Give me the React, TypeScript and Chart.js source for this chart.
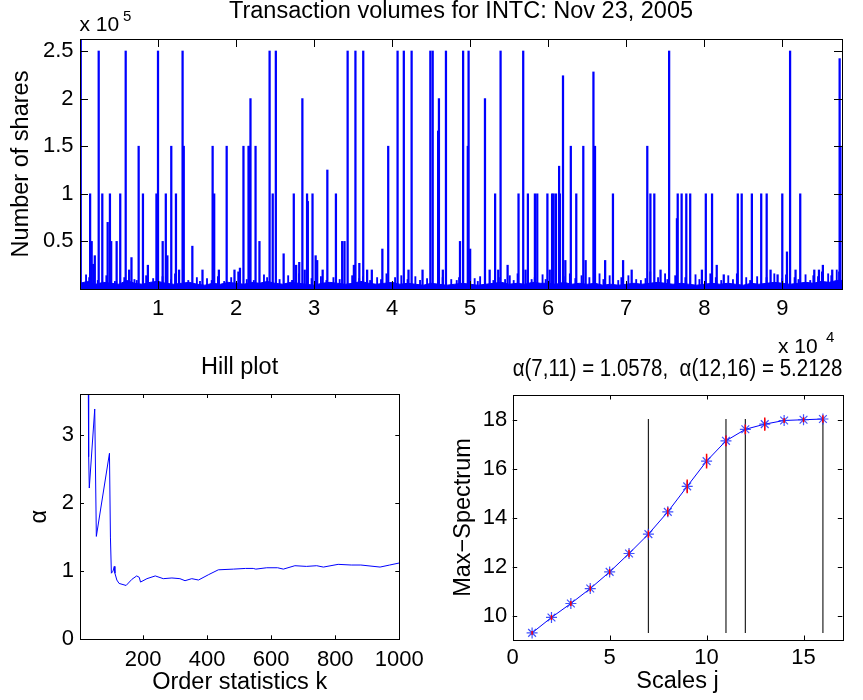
import React, { useEffect, useRef } from 'react';
import { Chart, registerables } from 'chart.js';

Chart.register(...registerables);

const FONT = "'Liberation Sans', Arial, Helvetica, sans-serif";
const TICK_SIZE = 22;
const LABEL_SIZE = 23.5;

// ---------- Top panel: transaction volumes (trade number in thousands, shares in thousands) ----------
const TOP_TITLE = 'Transaction volumes for INTC: Nov 23, 2005';
const TOP_YLABEL = 'Number of shares';
const TOP_X_TICKS = [10000, 20000, 30000, 40000, 50000, 60000, 70000, 80000, 90000];
const TOP_Y_TICKS = [50000, 100000, 150000, 200000, 250000];
const TOP_X_RANGE = [1, 97650];
const TOP_Y_RANGE = [0, 262600];

const BIG_TRADES: [number, number][] = [
  [0.2, 262.6], [1.4, 100], [1.6, 50], [1.8, 26], [2.0, 35], [2.5, 250], [2.96, 100], [3.65, 70], [3.94, 100], [4.1, 50],
  [4.8, 50], [5.26, 100], [5.96, 250], [6.4, 20], [6.7, 33], [7.62, 150], [8.17, 100], [8.8, 25], [9.9, 100], [10.1, 250],
  [10.7, 50], [11.1, 100], [11.3, 35], [11.8, 150], [12.4, 100], [12.8, 20], [13.25, 250], [13.4, 150], [14.5, 45], [15.8, 20],
  [17.1, 150], [17.3, 100], [17.9, 20], [18.9, 150], [19.9, 20], [20.6, 22], [21.05, 150], [21.7, 150], [21.8, 150], [21.95, 200],
  [22.6, 150], [23.1, 50], [24.4, 250], [24.8, 100], [25.2, 250], [26.2, 37], [27.5, 100], [27.8, 25], [28.2, 28], [28.6, 200],
  [28.9, 20], [29.2, 100], [29.3, 92], [29.9, 100], [30.3, 35], [30.5, 30], [31.2, 20], [31.8, 125], [32.9, 100], [33.7, 50],
  [34.0, 50], [34.4, 250], [35.2, 25], [35.4, 250], [35.9, 27], [36.4, 250], [36.9, 20], [37.5, 20], [38.85, 42], [39.6, 150],
  [40.8, 250], [41.6, 250], [42.2, 20], [42.6, 250], [44.0, 20], [45.0, 250], [45.3, 250], [46.0, 166], [46.1, 200], [46.6, 20],
  [47.0, 250], [48.8, 50], [49.2, 250], [49.8, 150], [49.9, 250], [50.1, 42], [52.0, 200], [52.6, 20], [53.3, 100], [53.7, 20],
  [54.0, 250], [54.9, 25], [56.3, 100], [56.9, 250], [57.2, 20], [57.5, 100], [58.4, 100], [58.7, 100], [60.0, 100], [60.3, 20],
  [60.6, 100], [60.8, 100], [61.1, 100], [61.5, 129], [61.6, 100], [62.0, 224], [62.3, 30], [63.0, 150], [63.7, 100], [64.6, 150],
  [64.9, 30], [65.9, 228], [66.1, 150], [67.4, 30], [68.4, 100], [69.7, 30], [70.8, 20], [72.8, 150], [73.2, 100], [73.7, 100],
  [74.5, 20], [75.6, 250], [76.6, 74], [76.7, 100], [77.2, 100], [77.8, 100], [78.3, 100], [79.8, 20], [80.3, 100], [81.1, 100],
  [81.7, 25], [82.6, 15], [84.4, 100], [84.9, 100], [86.2, 100], [87.4, 100], [88.1, 100], [88.6, 20], [89.5, 15], [90.1, 100],
  [90.7, 39], [91.1, 250], [91.8, 20], [92.4, 100], [94.2, 20], [94.8, 20], [95.3, 25], [96.5, 20], [97.45, 242], [97.55, 150],
];

const SMALL_TRADES: [number, number][] = [
  [0.7, 15], [1.1, 12], [2.2, 9], [3.3, 14], [4.4, 8], [5.6, 12], [6.9, 10], [7.2, 9], [8.4, 14], [9.3, 11], [9.6, 8],
  [10.5, 13], [11.6, 10], [12.1, 16], [13.8, 9], [14.9, 12], [15.3, 8], [16.2, 11], [16.8, 9], [17.6, 13], [18.4, 8],
  [19.3, 12], [20.2, 18], [21.3, 10], [22.2, 9], [23.5, 15], [23.9, 12], [25.5, 10], [26.6, 14], [27.1, 9], [28.0, 16],
  [29.6, 11], [30.8, 13], [31.5, 9], [32.4, 12], [33.2, 10], [34.8, 14], [35.7, 11], [36.2, 13], [37.1, 9], [38.0, 12],
  [38.5, 10], [39.2, 16], [40.3, 12], [41.1, 14], [41.9, 10], [42.9, 13], [43.5, 9], [44.4, 11], [45.8, 14], [46.4, 12],
  [47.5, 10], [48.2, 9], [48.5, 12], [50.5, 11], [50.9, 8], [51.2, 13], [52.9, 9], [53.6, 12], [54.4, 10], [55.0, 14],
  [55.5, 9], [56.0, 16], [57.8, 10], [58.2, 12], [59.2, 15], [59.6, 10], [61.9, 13], [62.7, 16], [63.4, 11], [64.2, 14],
  [65.2, 12], [66.5, 16], [67.0, 10], [67.8, 14], [68.9, 9], [69.3, 12], [70.2, 14], [71.2, 10], [71.8, 9], [72.4, 11],
  [73.0, 18], [74.0, 12], [74.9, 16], [75.2, 10], [76.2, 14], [77.5, 12], [78.8, 15], [79.3, 10], [80.7, 16], [81.4, 12],
  [82.1, 9], [83.0, 14], [83.6, 10], [84.1, 16], [85.3, 12], [85.8, 9], [86.7, 13], [87.9, 12], [88.9, 16], [89.9, 11],
  [90.4, 15], [91.5, 12], [92.0, 10], [92.9, 15], [93.5, 9], [93.9, 14], [94.5, 13], [95.0, 18], [95.8, 16], [96.2, 14],
  [96.9, 20], [97.2, 18],
];

const BASELINE_TRADES: [number, number][] = [
  [0, 6], [1, 8], [2, 5], [3, 7], [4, 6], [5, 5], [6, 9], [7, 6], [8, 5], [9, 7],
  [10, 8], [11, 6], [12, 5], [13, 6], [14, 7], [15, 5], [16, 4], [17, 6], [18, 5], [19, 7],
  [20, 6], [21, 5], [22, 7], [23, 6], [24, 8], [25, 6], [26, 5], [27, 7], [28, 6], [29, 5],
  [30, 4], [31, 6], [32, 7], [33, 6], [34, 5], [35, 6], [36, 8], [37, 6], [38, 5], [39, 6],
  [40, 7], [41, 5], [42, 6], [43, 5], [44, 4], [45, 6], [46, 5], [47, 4], [48, 5], [49, 6],
  [50, 5], [51, 4], [52, 5], [53, 6], [54, 7], [55, 5], [56, 6], [57, 5], [58, 7], [59, 6],
  [60, 6], [61, 5], [62, 7], [63, 5], [64, 6], [65, 5], [66, 6], [67, 4], [68, 5], [69, 4],
  [70, 5], [71, 6], [72, 5], [73, 6], [74, 7], [75, 6], [76, 5], [77, 6], [78, 5], [79, 4],
  [80, 5], [81, 6], [82, 5], [83, 6], [84, 5], [85, 4], [86, 6], [87, 5], [88, 6], [89, 7],
  [90, 6], [91, 5], [92, 6], [93, 7], [94, 6], [95, 8], [96, 7], [97, 9], [97.65, 9],
];

// ---------- Hill plot ----------
const HILL_TITLE = 'Hill plot';
const HILL_XLABEL = 'Order statistics k';
const HILL_YLABEL = 'α';
const HILL_X_TICKS = [200, 400, 600, 800, 1000];
const HILL_Y_TICKS = [0, 1, 2, 3];
const HILL_K = [28, 29, 31, 32, 49, 54, 95, 98, 101, 106, 110, 112, 118, 125, 147, 165, 180, 188, 192, 212, 238, 263, 290, 315, 331, 352, 373, 405, 435, 482, 520, 544, 552, 586, 620, 638, 674, 710, 742, 763, 809, 850, 880, 940, 970, 1000];
const HILL_ALPHA = [4.6, 2.68, 2.7, 2.22, 3.38, 1.51, 2.73, 1.5, 0.97, 1.0, 1.07, 0.97, 0.87, 0.82, 0.79, 0.88, 0.93, 0.91, 0.84, 0.89, 0.93, 0.89, 0.9, 0.89, 0.86, 0.89, 0.87, 0.95, 1.02, 1.03, 1.04, 1.04, 1.03, 1.05, 1.05, 1.03, 1.08, 1.07, 1.08, 1.06, 1.1, 1.09, 1.09, 1.06, 1.09, 1.12];

// ---------- Max-spectrum ----------
const SPEC_TITLE = 'α(7,11) = 1.0578,  α(12,16) = 5.2128';
const SPEC_XLABEL = 'Scales j';
const SPEC_YLABEL = 'Max\u2212Spectrum';
const SPEC_X_TICKS = [0, 5, 10, 15];
const SPEC_Y_TICKS = [10, 12, 14, 16, 18];
const SPEC_J = [1, 2, 3, 4, 5, 6, 7, 8, 9, 10, 11, 12, 13, 14, 15, 16];
const SPEC_VAL = [9.29, 9.92, 10.49, 11.1, 11.78, 12.53, 13.32, 14.23, 15.27, 16.3, 17.13, 17.6, 17.81, 17.96, 17.99, 18.02];
const SPEC_ERR = [0.08, 0.1, 0.1, 0.12, 0.12, 0.15, 0.15, 0.18, 0.28, 0.3, 0.22, 0.2, 0.27, 0.1, 0.1, 0.15];
const SPEC_RANGES = [7, 11, 12, 16];

const setTicks = (values: number[]) => (scale: any) => {
  scale.ticks = values.map((v) => ({ value: v }));
};

const boxPlugin = (len: number) => ({
  id: 'matlabBox',
  afterDraw(chart: any) {
    const { ctx, chartArea: a, scales } = chart;
    const xs = scales.x;
    const ys = scales.y;
    ctx.save();
    ctx.strokeStyle = '#000';
    ctx.lineWidth = 1;
    ctx.beginPath();
    xs.ticks.forEach((t: any) => {
      const p = Math.round(xs.getPixelForValue(t.value)) + 0.5;
      ctx.moveTo(p, a.bottom);
      ctx.lineTo(p, a.bottom - len);
      ctx.moveTo(p, a.top);
      ctx.lineTo(p, a.top + len);
    });
    ys.ticks.forEach((t: any) => {
      const p = Math.round(ys.getPixelForValue(t.value)) + 0.5;
      ctx.moveTo(a.left, p);
      ctx.lineTo(a.left + len, p);
      ctx.moveTo(a.right, p);
      ctx.lineTo(a.right - len, p);
    });
    ctx.stroke();
    ctx.strokeRect(Math.round(a.left) + 0.5, Math.round(a.top) + 0.5, Math.round(a.right - a.left), Math.round(a.bottom - a.top));
    ctx.restore();
  },
});

const errorBarPlugin = {
  id: 'errorBars',
  afterDatasetsDraw(chart: any) {
    const { ctx, scales } = chart;
    ctx.save();
    ctx.strokeStyle = '#ff0000';
    ctx.lineWidth = 1.5;
    ctx.beginPath();
    SPEC_J.forEach((j, i) => {
      const x = scales.x.getPixelForValue(j);
      ctx.moveTo(x, scales.y.getPixelForValue(SPEC_VAL[i] - SPEC_ERR[i]));
      ctx.lineTo(x, scales.y.getPixelForValue(SPEC_VAL[i] + SPEC_ERR[i]));
    });
    ctx.stroke();
    ctx.restore();
  },
};

const tickFont = { size: TICK_SIZE, family: FONT };
const labelFont = { size: LABEL_SIZE, family: FONT };

function axis(opts: {
  min: number; max: number; ticks: number[]; fmt: (v: number) => string; size: number; horizontal: boolean;
  pad: number; title?: string; titlePad?: number;
}) {
  return {
    type: 'linear',
    min: opts.min,
    max: opts.max,
    offset: false,
    grid: { display: false, drawTicks: false },
    border: { display: false },
    afterBuildTicks: setTicks(opts.ticks),
    afterFit: (s: any) => {
      if (opts.horizontal) s.height = opts.size; else s.width = opts.size;
      s.paddingLeft = 0; s.paddingRight = 0; s.paddingTop = 0; s.paddingBottom = 0;
    },
    ticks: {
      font: tickFont, color: '#000', padding: opts.pad, maxRotation: 0, minRotation: 0, autoSkip: false,
      callback: (v: any) => opts.fmt(Number(v)),
    },
    title: opts.title
      ? {
          display: true, text: opts.title, color: '#000', font: labelFont,
          padding: opts.horizontal ? { top: 0, bottom: opts.titlePad } : { top: opts.titlePad, bottom: 0 },
        }
      : { display: false },
  };
}

function titleOpts(text: string, top: number, bottom: number) {
  return {
    display: true, text, color: '#000', fullSize: false,
    font: { size: LABEL_SIZE, family: FONT, weight: 'normal', lineHeight: 1 },
    padding: { top, bottom },
  };
}

function useChart(ref: React.RefObject<HTMLCanvasElement>, make: () => any) {
  useEffect(() => {
    if (!ref.current) return;
    const chart = new Chart(ref.current, make());
    return () => chart.destroy();
  }, []);
}

export default function App() {
  const topRef = useRef<HTMLCanvasElement>(null);
  const hillRef = useRef<HTMLCanvasElement>(null);
  const specRef = useRef<HTMLCanvasElement>(null);

  useChart(topRef, () => ({
    type: 'bar',
    data: {
      datasets: [
        {
          type: 'bar',
          data: BIG_TRADES.map(([p, v]) => ({ x: p * 1000, y: v * 1000 })),
          backgroundColor: '#0000ff', borderWidth: 0, barThickness: 1.6,
        },
        {
          type: 'bar',
          data: SMALL_TRADES.map(([p, v]) => ({ x: p * 1000, y: v * 1000 })),
          backgroundColor: '#0000ff', borderWidth: 0, barThickness: 1.2,
        },
        {
          type: 'line',
          data: BASELINE_TRADES.map(([p, v]) => ({ x: p * 1000, y: v * 1000 })),
          borderColor: '#0000ff', backgroundColor: '#0000ff', borderWidth: 1, pointRadius: 0, fill: 'origin', tension: 0,
        },
      ],
    },
    options: {
      responsive: false, animation: false, events: [],
      layout: { padding: { left: 0, right: 21, top: 0, bottom: 0 } },
      plugins: { legend: { display: false }, tooltip: { enabled: false }, title: titleOpts(TOP_TITLE, 0, 15.5) },
      scales: {
        x: axis({ min: TOP_X_RANGE[0], max: TOP_X_RANGE[1], ticks: TOP_X_TICKS, fmt: (v) => String(v / 10000), size: 51, horizontal: true, pad: 7 }),
        y: axis({ min: TOP_Y_RANGE[0], max: TOP_Y_RANGE[1], ticks: TOP_Y_TICKS, fmt: (v) => String(v / 100000), size: 80, horizontal: false, pad: 6.5, title: TOP_YLABEL, titlePad: 7.8 }),
      },
    },
    plugins: [boxPlugin(8)],
  }));

  useChart(hillRef, () => ({
    type: 'line',
    data: {
      datasets: [
        {
          data: HILL_K.map((k, i) => ({ x: k, y: HILL_ALPHA[i] })),
          borderColor: '#0000ff', borderWidth: 1, pointRadius: 0, tension: 0, fill: false,
        },
      ],
    },
    options: {
      responsive: false, animation: false, events: [],
      layout: { padding: { left: 0, right: 31.7, top: 0, bottom: 0 } },
      plugins: { legend: { display: false }, tooltip: { enabled: false }, title: titleOpts(HILL_TITLE, 16.2, 14.3) },
      scales: {
        x: axis({ min: 3, max: 1000, ticks: HILL_X_TICKS, fmt: (v) => String(v), size: 60.7, horizontal: true, pad: 7.6, title: HILL_XLABEL, titlePad: 3.3 }),
        y: axis({ min: 0, max: 3.6, ticks: HILL_Y_TICKS, fmt: (v) => String(v), size: 80, horizontal: false, pad: 6, title: HILL_YLABEL, titlePad: 25 }),
      },
    },
    plugins: [boxPlugin(4)],
  }));

  useChart(specRef, () => {
    const lo = Math.min(...SPEC_VAL);
    const hi = Math.max(...SPEC_VAL);
    return {
      type: 'line',
      data: {
        datasets: [
          {
            data: SPEC_J.map((j, i) => ({ x: j, y: SPEC_VAL[i] })),
            borderColor: '#0000ff', borderWidth: 1, tension: 0, fill: false,
            pointStyle: 'star', pointRadius: 5.5, pointBorderWidth: 1.2,
            pointBorderColor: 'rgba(30,50,255,0.85)', pointBackgroundColor: 'rgba(0,0,0,0)',
          },
          ...SPEC_RANGES.map((j) => ({
            data: [{ x: j, y: lo }, { x: j, y: hi }],
            borderColor: '#222', borderWidth: 1.2, pointRadius: 0, fill: false,
          })),
        ],
      },
      options: {
        responsive: false, animation: false, events: [],
        layout: { padding: { left: 0, right: 20.7, top: 0, bottom: 0 } },
        plugins: { legend: { display: false }, tooltip: { enabled: false }, title: titleOpts(SPEC_TITLE, 17.4, 14.1) },
        scales: {
          x: axis({ min: 0, max: 17, ticks: SPEC_X_TICKS, fmt: (v) => String(v), size: 60, horizontal: true, pad: 5.2, title: SPEC_XLABEL, titlePad: 4.7 }),
          y: axis({ min: 9, max: 19, ticks: SPEC_Y_TICKS, fmt: (v) => String(v), size: 81.7, horizontal: false, pad: 5.4, title: SPEC_YLABEL, titlePad: 18.5 }),
        },
      },
      plugins: [errorBarPlugin, boxPlugin(4.5)],
    };
  });

  const textStyle = (left: number, top: number, size: number): React.CSSProperties => ({
    position: 'absolute', left, top, fontFamily: FONT, fontSize: size, lineHeight: `${size}px`, color: '#000', whiteSpace: 'nowrap',
  });

  return (
    <div style={{ position: 'absolute', left: 0, top: 0, width: 863, height: 700, background: '#fff', overflow: 'hidden' }}>
      <canvas ref={topRef} width={863} height={340} style={{ position: 'absolute', left: 0, top: 0 }} />
      <canvas ref={hillRef} width={431} height={360} style={{ position: 'absolute', left: 0, top: 340 }} />
      <canvas ref={specRef} width={432} height={360} style={{ position: 'absolute', left: 431, top: 340 }} />
      <div style={textStyle(79.5, 12.7, 21)}>x 10</div>
      <div style={textStyle(123, 8.3, 15)}>5</div>
      <div style={textStyle(778, 335.2, 21)}>x 10</div>
      <div style={textStyle(826, 329.3, 15)}>4</div>
    </div>
  );
}
